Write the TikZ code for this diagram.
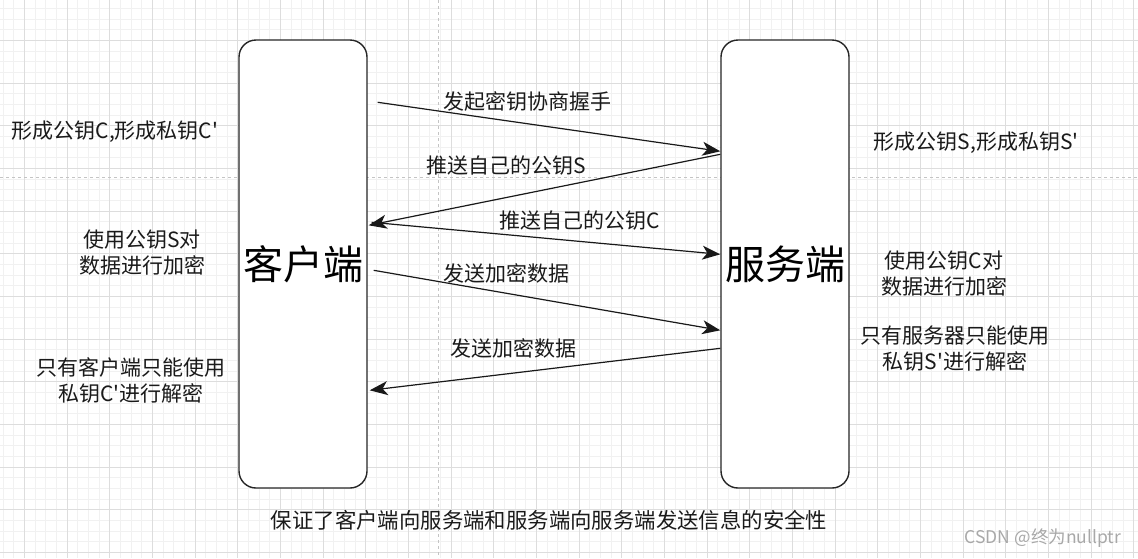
\documentclass[tikz,border=0pt]{standalone}
\usepackage{fontspec}
\setmainfont{Noto Sans CJK SC}[Ligatures=TeXOff]
\usetikzlibrary{arrows.meta,calc}
\definecolor{minorg}{HTML}{F1F1F1}
\definecolor{majorg}{HTML}{DDDDDD}
\definecolor{pageg}{HTML}{C4C4C4}
\definecolor{txt}{HTML}{1A1A1A}
\definecolor{wm}{HTML}{A8A8A8}
\tikzset{
  minorgrid/.style={minorg, line width=0.8pt},
  majorgrid/.style={majorg, line width=0.8pt},
  pagebreak/.style={pageg, line width=0.9pt, dash pattern=on 3pt off 3pt},
  party/.style={draw=black!85, line width=1.4pt, fill=white, rounded corners=17pt,
    minimum width=128pt, minimum height=448pt, inner sep=0pt,
    font=\fontsize{40}{48}\selectfont},
  msg/.style={line width=1.2pt, black!90, -{Stealth[length=18pt,width=14pt,inset=5pt]}},
  lbl/.style={inner sep=0pt, font=\fontsize{21}{26}\selectfont, text=txt, align=center},
  bottomlbl/.style={inner sep=0pt, font=\fontsize{21.4}{26}\selectfont, text=txt},
  wmark/.style={inner sep=0pt, font=\fontsize{17.5}{20}\selectfont, text=wm},
}
\begin{document}
\begin{tikzpicture}[x=1pt,y=-1pt]
  \useasboundingbox (0,0) rectangle (1138,558);
  \fill[white] (0,0) rectangle (1138,558);
  % grid
  \foreach \i in {0,...,106} \draw[minorgrid] ({2.97+\i*10.667},0) -- ({2.97+\i*10.667},558);
  \foreach \j in {0,...,51} \draw[minorgrid] (0,{8.3+\j*10.667}) -- (1138,{8.3+\j*10.667});
  \foreach \i in {0,...,26} \draw[majorgrid] ({24.3+\i*42.667},0) -- ({24.3+\i*42.667},558);
  \foreach \j in {0,...,12} \draw[majorgrid] (0,{40.3+\j*42.667}) -- (1138,{40.3+\j*42.667});
  % page breaks
  \draw[pagebreak] (0,177.5) -- (1138,177.5);
  \draw[pagebreak] (438.5,0) -- (438.5,558);
  % parties
  \node[party] (client) at (303,264) {客户端};
  \node[party] (server) at (785,264) {服务端};
  % connector end points
  \coordinate (a1s) at ([shift={(10,63)}]client.north east);
  \coordinate (a1e) at ([shift={(0,112)}]server.north west);
  \coordinate (a2s) at ([shift={(0,115)}]server.north west);
  \coordinate (a2e) at ([shift={(1,186)}]client.north east);
  \coordinate (a3s) at ([shift={(4,183)}]client.north east);
  \coordinate (a3e) at ([shift={(0,215)}]server.north west);
  \coordinate (a4s) at ([shift={(6,231)}]client.north east);
  \coordinate (a4e) at ([shift={(0,291)}]server.north west);
  \coordinate (a5s) at ([shift={(0,309)}]server.north west);
  \coordinate (a5e) at ([shift={(2,351)}]client.north east);
  % messages
  \draw[msg] (a1s) -- (a1e);
  \draw[msg] (a2s) -- (a2e);
  \draw[msg] (a3s) -- (a3e);
  \draw[msg] (a4s) -- (a4e);
  \draw[msg] (a5s) -- (a5e);
  % message labels
  \node[lbl] (l1) at (527,101) {发起密钥协商握手};
  \node[lbl] (l2) at (506,166) {推送自己的公钥S};
  \node[lbl] (l3) at (580,221) {推送自己的公钥C};
  \node[lbl] (l4) at (506,273) {发送加密数据};
  \node[lbl] (l5) at (513,348) {发送加密数据};
  % side notes
  \node[lbl] (c1) at (115,132) {形成公钥C,形成私钥C'};
  \node[lbl] (c2) at (142,253) {使用公钥S对\\数据进行加密};
  \node[lbl] (c3) at (131,380) {只有客户端只能使用\\私钥C'进行解密};
  \node[lbl] (s1) at (976,143) {形成公钥S,形成私钥S'};
  \node[lbl] (s2) at (944,274) {使用公钥C对\\数据进行加密};
  \node[lbl] (s3) at (955,349) {只有服务器只能使用\\私钥S'进行解密};
  % bottom
  \node[bottomlbl] (b) at (549,520) {保证了客户端向服务端和服务端向服务端发送信息的安全性};
  \node[wmark] (w) at (1043,538) {CSDN @终为nullptr};
\end{tikzpicture}
\end{document}
